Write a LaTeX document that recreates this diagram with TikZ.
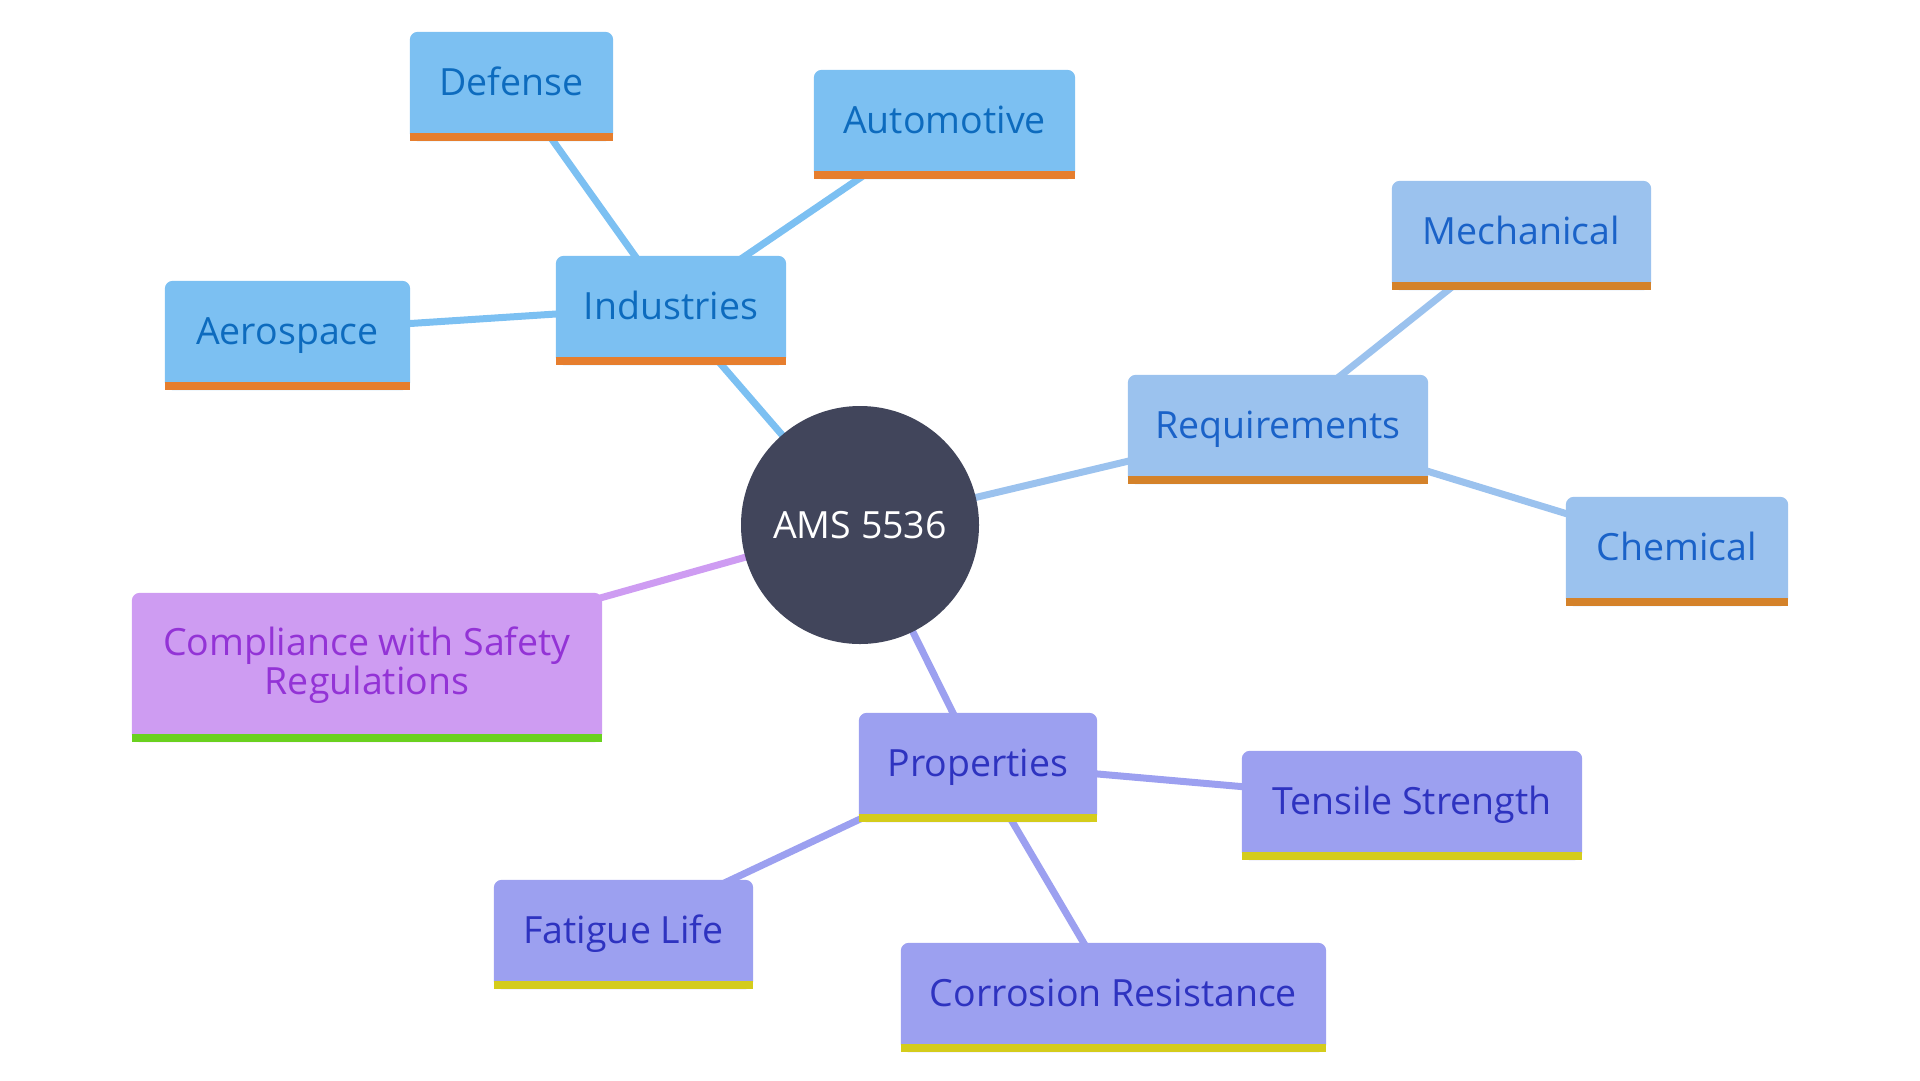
\documentclass[tikz,border=0pt]{standalone}
\usepackage{fontspec}
\setmainfont{Open Sans}
\usetikzlibrary{backgrounds}
\definecolor{indfill}{HTML}{7CC0F2}
\definecolor{indtext}{HTML}{0D6BBE}
\definecolor{indbar}{HTML}{E67E2E}
\definecolor{reqfill}{HTML}{9BC2EE}
\definecolor{reqtext}{HTML}{1A62C8}
\definecolor{reqbar}{HTML}{D4822A}
\definecolor{profill}{HTML}{9CA0F0}
\definecolor{protext}{HTML}{2E33C0}
\definecolor{probar}{HTML}{D4CC1C}
\definecolor{comfill}{HTML}{CE9CF2}
\definecolor{comtext}{HTML}{9333D6}
\definecolor{combar}{HTML}{6AD11F}
\definecolor{rootfill}{HTML}{41455B}
\newcommand{\boxbg}[3]{%
  \fill[#2, rounded corners=8pt] ([yshift=-8pt]#1.south west) rectangle (#1.north east);
  \fill[#3] (#1.south west) rectangle ([yshift=-8pt]#1.south east);
}
\tikzset{
  mmnode/.style={inner sep=0pt, minimum height=101pt, font=\fontsize{37.5}{39}\selectfont,
                 text height=26.5pt, text depth=0pt, anchor=center},
  edge/.style={line width=7pt},
}
\begin{document}
\begin{tikzpicture}[x=1pt,y=-1pt]
\useasboundingbox (0,0) rectangle (1920,1080);
% root
\node[circle, fill=rootfill, minimum size=238pt, inner sep=0pt, text=white,
      font=\fontsize{37.5}{39}\selectfont, text height=26.5pt, text depth=0pt] (root) at (860,525) {AMS 5536};
% industries
\node[mmnode, minimum width=230pt, text=indtext] (ind) at (671,306.5) {Industries};
\node[mmnode, minimum width=203pt, text=indtext] (def) at (511.5,82.5) {Defense};
\node[mmnode, minimum width=261pt, text=indtext] (aut) at (944.5,120.5) {Automotive};
\node[mmnode, minimum width=245pt, text=indtext] (aer) at (287.5,331.5) {Aerospace};
% requirements
\node[mmnode, minimum width=300pt, text=reqtext] (req) at (1278,425.5) {Requirements};
\node[mmnode, minimum width=259pt, text=reqtext] (mec) at (1521.5,231.5) {Mechanical};
\node[mmnode, minimum width=222pt, text=reqtext] (che) at (1677,547.5) {Chemical};
% compliance
\node[inner sep=0pt, minimum width=470pt, minimum height=141pt, align=center,
      text=comtext, font=\fontsize{37.5}{39}\selectfont, text height=71pt, text depth=9pt] (com) at (367,663.5)
      {Compliance with Safety\\Regulations};
% properties
\node[mmnode, minimum width=238pt, text=protext] (pro) at (978,763.5) {Properties};
\node[mmnode, minimum width=340pt, text=protext] (ten) at (1412,801.5) {Tensile Strength};
\node[mmnode, minimum width=259pt, text=protext] (fat) at (623.5,930.5) {Fatigue Life};
\node[mmnode, minimum width=425pt, text=protext] (cor) at (1113.5,993.5) {Corrosion Resistance};
\begin{scope}[on background layer]
  \draw[edge, indfill] (root.center) -- (ind.center);
  \draw[edge, indfill] (ind.center) -- (def.center);
  \draw[edge, indfill] (ind.center) -- (aut.center);
  \draw[edge, indfill] (ind.center) -- (aer.center);
  \draw[edge, reqfill] (root.center) -- (req.center);
  \draw[edge, reqfill] (req.center) -- (mec.center);
  \draw[edge, reqfill] (req.center) -- (che.center);
  \draw[edge, comfill] (root.center) -- (com.center);
  \draw[edge, profill] (root.center) -- (pro.center);
  \draw[edge, profill] (pro.center) -- (ten.center);
  \draw[edge, profill] (pro.center) -- (fat.center);
  \draw[edge, profill] (pro.center) -- (cor.center);
  \boxbg{ind}{indfill}{indbar}
  \boxbg{def}{indfill}{indbar}
  \boxbg{aut}{indfill}{indbar}
  \boxbg{aer}{indfill}{indbar}
  \boxbg{req}{reqfill}{reqbar}
  \boxbg{mec}{reqfill}{reqbar}
  \boxbg{che}{reqfill}{reqbar}
  \boxbg{com}{comfill}{combar}
  \boxbg{pro}{profill}{probar}
  \boxbg{ten}{profill}{probar}
  \boxbg{fat}{profill}{probar}
  \boxbg{cor}{profill}{probar}
\end{scope}
\end{tikzpicture}
\end{document}
